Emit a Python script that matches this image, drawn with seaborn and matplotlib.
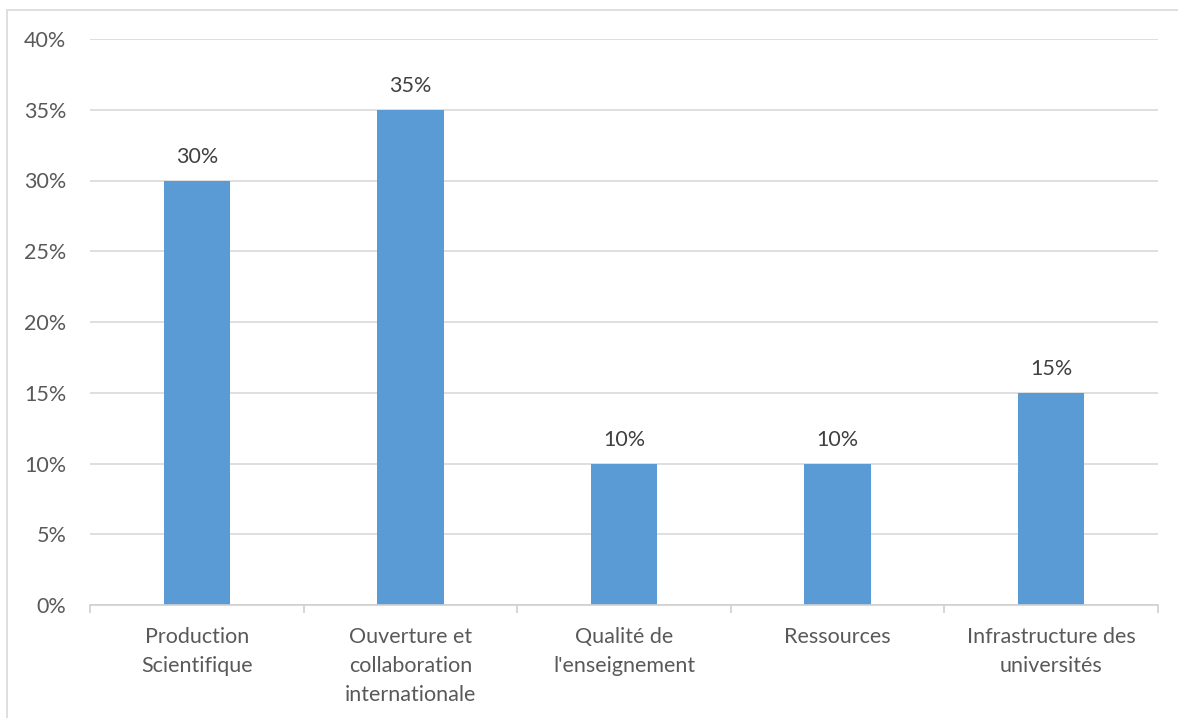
import matplotlib
matplotlib.use("Agg")
import matplotlib.pyplot as plt
import seaborn as sns
import pandas as pd
from matplotlib.ticker import FuncFormatter, FixedLocator
from matplotlib.lines import Line2D

categories = ["Production\nScientifique", "Ouverture et\ncollaboration\ninternationale",
              "Qualité de\nl'enseignement", "Ressources", "Infrastructure des\nuniversités"]
values = [30, 35, 10, 10, 15]
y_ticks = [0, 5, 10, 15, 20, 25, 30, 35, 40]

sns.set_theme(style="white")
plt.rcParams['font.family'] = ['Lato', 'DejaVu Sans']

df = pd.DataFrame({"cat": categories, "val": values})

fig = plt.figure(figsize=(11.78, 7.18), dpi=100)
ax = fig.add_axes([90/1178, 1-605/718, (1158-90)/1178, (605-39)/718])

sns.barplot(data=df, x="cat", y="val", color="#5b9bd5", width=0.31, ax=ax,
            saturation=1, edgecolor="none", linewidth=0)

ax.set_ylim(0, 40)
ax.set_xlim(-0.5, len(categories) - 0.5)
ax.yaxis.set_major_locator(FixedLocator(y_ticks))
ax.yaxis.set_major_formatter(FuncFormatter(lambda v, p: f"{int(v)}%"))
ax.grid(axis="y", color="#d9d9d9", linewidth=1.2)
ax.set_axisbelow(True)
for s in ["top", "right", "left"]:
    ax.spines[s].set_visible(False)
ax.spines["bottom"].set_color("#d0d0d0")
ax.spines["bottom"].set_linewidth(1.2)
ax.set_xlabel("")
ax.set_ylabel("")

FS = 15.5
ax.tick_params(axis="y", length=0, pad=17, labelsize=FS, labelcolor="#595959")
ax.tick_params(axis="x", length=0, pad=16, labelsize=FS, labelcolor="#595959")

# category separator ticks
ax.xaxis.set_minor_locator(FixedLocator([i - 0.5 for i in range(len(categories) + 1)]))
ax.tick_params(axis="x", which="minor", bottom=True, length=6, width=1.2,
               color="#d0d0d0", direction="out")

for lbl in ax.get_xticklabels():
    lbl.set_linespacing(1.55)

for i, v in enumerate(values):
    ax.annotate(f"{v}%", (i, v), xytext=(0, 10), textcoords="offset points",
                ha="center", va="bottom", fontsize=FS, color="#404040")

# chart border
fig.add_artist(Line2D([7/1178, 7/1178], [0, 1-10/718], color="#d9d9d9", lw=1.2, transform=fig.transFigure))
fig.add_artist(Line2D([7/1178, 1], [1-10/718, 1-10/718], color="#d9d9d9", lw=1.2, transform=fig.transFigure))

fig.savefig("out.png", dpi=100)
